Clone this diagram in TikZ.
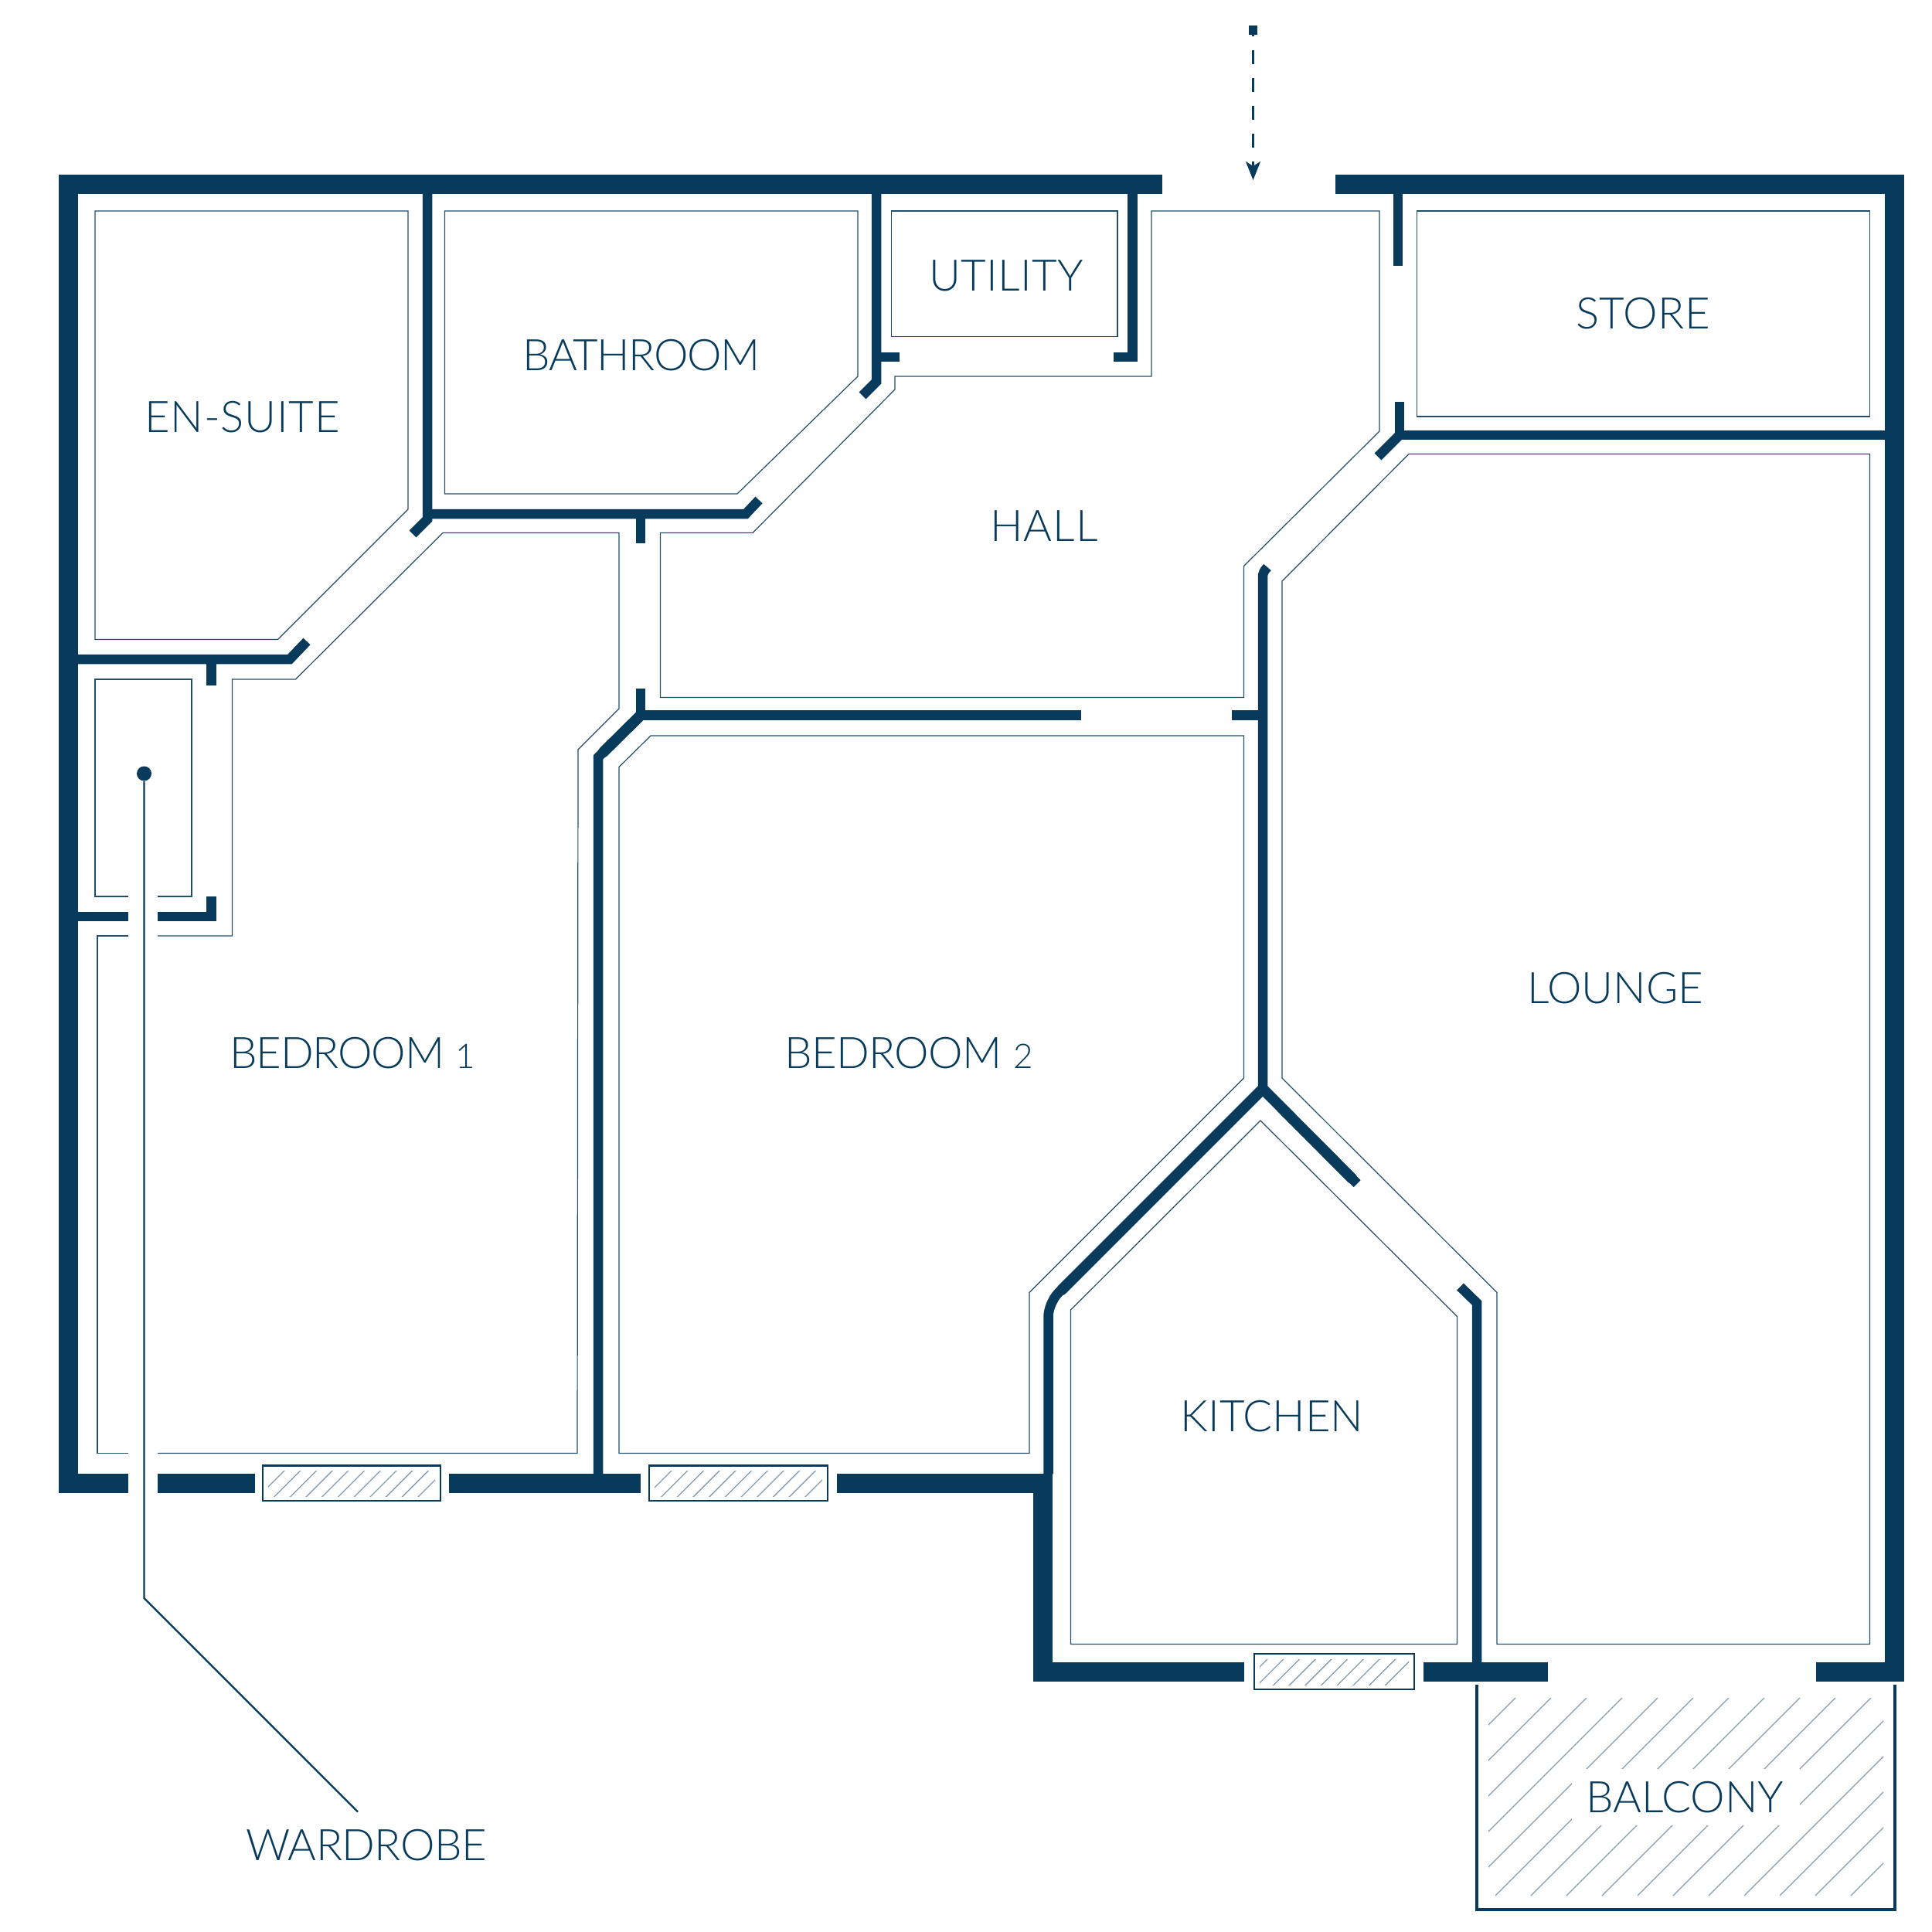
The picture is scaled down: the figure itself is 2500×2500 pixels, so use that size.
\documentclass[tikz,border=0pt]{standalone}
\usepackage{fontspec}
\setmainfont{Lato Light}
\usetikzlibrary{arrows.meta}

\definecolor{navy}{HTML}{073A5B}
\definecolor{hatchblue}{HTML}{849CAD}

\newcommand{\olddigit}[1]{{\fontsize{12.5}{12.5}\selectfont #1}}
\newcommand{\spaced}[2]{{\addfontfeature{LetterSpace=#1}#2}}

\tikzset{
	outerwall/.style = {draw = navy, line width = 0.25cm},
	innerwall/.style = {draw = navy, line width = 0.125cm},
	diagwall/.style = {draw = navy, line width = 0.14cm, line cap = round},
	roomline/.style = {draw = navy!90, line width = 0.012cm},
	hatchline/.style = {draw = hatchblue, line width = 0.013cm},
	glazing/.style = {draw = navy, line width = 0.025cm},
	balconyline/.style = {draw = navy, line width = 0.04cm},
	leader/.style = {draw = navy, line width = 0.024cm},
	roomlabel/.style = {text = navy, font = \fontsize{16}{16}\selectfont, inner sep = 0pt}
}

\begin{document}
\begin{tikzpicture}[x = 0.01cm, y = -0.01cm, > = {Stealth[length = 0.24cm, width = 0.19cm, inset = 0.06cm]}]

	\useasboundingbox (0, 0) rectangle (2500, 2500);

	% Outer walls (all coordinates are pixels of the plan)

	\draw [outerwall] (1503.5, 238.5) -- (88.5, 238.5) -- (88.5, 1919.5) -- (166, 1919.5);
	\draw [outerwall] (204, 1919.5) -- (330, 1919.5);
	\draw [outerwall] (581, 1919.5) -- (829, 1919.5);
	\draw [outerwall] (1083, 1919.5) -- (1349, 1919.5) -- (1349, 2163.5) -- (1609.5, 2163.5);
	\draw [outerwall] (1841.5, 2163.5) -- (2002.5, 2163.5);
	\draw [outerwall] (1728, 238.5) -- (2451.5, 238.5) -- (2451.5, 2163.5) -- (2350, 2163.5);

	% Inner walls

	\draw [innerwall] (553, 251) -- (553, 672) -- (534, 691);
	\draw [innerwall] (553, 665) -- (965, 665) -- (982, 647);
	\draw [innerwall] (829, 665) -- (829, 703);
	\draw [innerwall] (100, 853) -- (375, 853) -- (397, 830);
	\draw [innerwall] (273.5, 853) -- (273.5, 887);
	\draw [innerwall] (100, 1186) -- (166, 1186);
	\draw [innerwall] (204, 1186) -- (273.5, 1186) -- (273.5, 1160);
	\draw [innerwall] (1134, 251) -- (1134, 494) -- (1116, 512);
	\draw [innerwall] (1134, 462) -- (1164, 462);
	\draw [innerwall] (1441, 462) -- (1465.5, 462) -- (1465.5, 251);
	\draw [innerwall] (1809, 251) -- (1809, 344);
	\draw [innerwall] (2439, 563) -- (1811, 563) -- (1811, 520);
	\draw [innerwall] (1811, 563) -- (1783, 591);
	\draw [innerwall] (829, 891) -- (829, 925.5) -- (1399, 925.5);
	\draw [innerwall] (829, 925.5) -- (774, 980) -- (774, 1907);
	\draw [diagwall] (829, 925.5) -- (781, 973);
	\draw [innerwall] (1594, 925.5) -- (1634, 925.5);
	\draw [innerwall, rounded corners = 0.05cm] (1640, 734) -- (1634, 741) -- (1634, 1409);
	\draw [innerwall] (1756, 1531.5) -- (1634, 1409);
	\draw [innerwall, rounded corners = 0.18cm] (1634, 1409) -- (1356.5, 1686) -- (1356.5, 1907);
	\draw [diagwall] (1634, 1409) -- (1374, 1669);
	\draw [diagwall] (1749, 1524.5) -- (1634, 1409);
	\draw [innerwall] (1756, 1531.5) -- (1745, 1520.5);
	\draw [innerwall] (1889.5, 1665) -- (1911, 1686) -- (1911, 2151);

	% Room outlines

	\draw [roomline] (123, 273) -- (528, 273) -- (528, 659) -- (359.5, 827.5) -- (123, 827.5) -- cycle;
	\draw [roomline] (575.5, 273) -- (1110, 273) -- (1110, 487) -- (954, 639) -- (575.5, 639) -- cycle;
	\draw [roomline] (1153.5, 273) rectangle (1446, 435.5);
	\draw [roomline] (854.5, 689.5) -- (974, 689.5) -- (1158, 504) -- (1158, 487) -- (1490, 487) -- (1490, 273) -- (1785, 273) -- (1785, 558) -- (1609.5, 732.5) -- (1609.5, 902.5) -- (854.5, 902.5) -- cycle;
	\draw [roomline] (1833.5, 273) rectangle (2419.5, 539);
	\draw [roomline] (1823, 587.5) -- (2419.5, 587.5) -- (2419.5, 2127.5) -- (1937, 2127.5) -- (1937, 1672.5) -- (1659, 1395) -- (1659, 752) -- cycle;
	\draw [roomline] (1631, 1450) -- (1885.5, 1703.5) -- (1885.5, 2127.5) -- (1385.5, 2127.5) -- (1385.5, 1695) -- cycle;
	\draw [roomline] (842, 952) -- (1609.5, 952) -- (1609.5, 1395) -- (1332, 1672.5) -- (1332, 1880.5) -- (801, 1880.5) -- (801, 992.5) -- cycle;
	\draw [roomline] (166, 1211) -- (126, 1211) -- (126, 1880.5) -- (166, 1880.5);
	\draw [roomline] (204, 1880.5) -- (747, 1880.5) -- (748, 970) -- (801, 917) -- (801, 689.5) -- (573, 689.5) -- (382.5, 879) -- (300.5, 879) -- (300.5, 1211) -- (204, 1211);
	\draw [roomline] (166, 1160) -- (123, 1160) -- (123, 879) -- (248, 879) -- (248, 1160) -- (204, 1160);

	% Windows: left, top, right, bottom, first hatch line (x + y), number of lines

	\foreach \xa/\ya/\xb/\yb/\first/\last in {340/1896.5/570/1942/2271/10, 840/1896.5/1071/1942/2772/10, 1623/2140/1830/2186/3787/9}
	{
		\begin{scope}
			\clip (\xa + 7, \ya + 7) rectangle (\xb - 7, \yb - 6);
			\foreach \k in {0, 1, ..., \last}
				\draw [hatchline] ({\first + 20.7 * \k - \ya}, \ya) -- ({\first + 20.7 * \k - \yb}, \yb);
		\end{scope}
		\draw [glazing] (\xa, \ya) rectangle (\xb, \yb);
	}

	% Balcony

	\begin{scope}
		\clip (1926, 2197) rectangle (2437, 2453);
		\foreach \k in {0, 1, ..., 15}
			\draw [hatchline] ({4158 + 46 * \k - 2197}, 2197) -- ({4158 + 46 * \k - 2453}, 2453);
	\end{scope}
	\fill [white] (2034, 2289) rectangle (2329, 2362);
	\draw [balconyline] (1911, 2180) -- (1911, 2471) -- (2452, 2471) -- (2452, 2180);

	% Labels

	\node [roomlabel] (ensuite) at (313.5, 540) {\spaced{1.4}{EN-SUITE}};
	\node [roomlabel] (bathroom) at (830, 460) {\spaced{-2.5}{BATHROOM}};
	\node [roomlabel] (utility) at (1302, 357) {\spaced{0.8}{UTILITY}};
	\node [roomlabel] (store) at (2126, 406) {\spaced{1}{STORE}};
	\node [roomlabel] (hall) at (1351, 681) {\spaced{2}{HALL}};
	\node [roomlabel] (bedroomone) at (456, 1363) {\spaced{-2}{BEDROOM \olddigit{1}}};
	\node [roomlabel] (bedroomtwo) at (1176, 1363) {\spaced{-1}{BEDROOM \olddigit{2}}};
	\node [roomlabel] (lounge) at (2090, 1279) {LOUNGE};
	\node [roomlabel] (kitchen) at (1646, 1833) {KITCHEN};
	\node [roomlabel] (balcony) at (2180, 2326) {BALCONY};
	\node [roomlabel] (wardrobe) at (474, 2388) {\spaced{-1}{WARDROBE}};

	% Wardrobe pointer

	\node [circle, fill = navy, minimum size = 0.19cm, inner sep = 0pt] (wardrobedot) at (186.5, 1001) {};
	\coordinate (wardrobebend) at (186.5, 2068);
	\coordinate (wardrobeend) at (463, 2344.5);
	\draw [leader] (wardrobedot) -- (wardrobebend) -- (wardrobeend);

	% Entrance arrow

	\node [fill = navy, minimum size = 0.115cm, inner sep = 0pt] (entrystart) at (1621.5, 39) {};
	\coordinate (entryend) at (1621.5, 233);
	\draw [->, leader, dash pattern = on 0.18cm off 0.18cm, dash phase = 0.10cm] (entrystart.center) -- (entryend);

\end{tikzpicture}
\end{document}
